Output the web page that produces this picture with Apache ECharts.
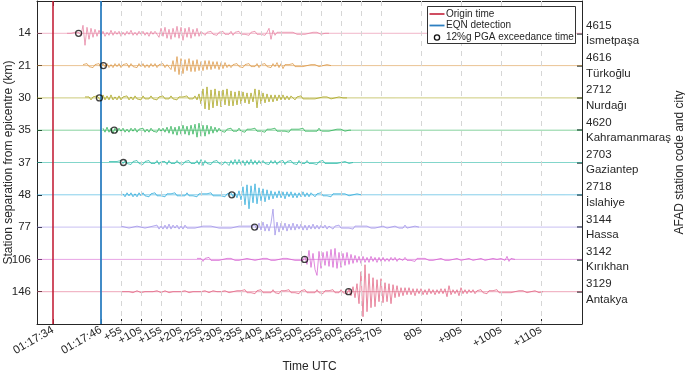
<!DOCTYPE html>
<html><head><meta charset="utf-8">
<script src="https://cdn.jsdelivr.net/npm/echarts@6/dist/echarts.min.js"></script>
<style>html,body{margin:0;padding:0;background:#fff}#c{width:685px;height:374px}</style>
</head><body><div id="c"></div>
<script>
// ---------- data ----------
const distances = [14, 21, 30, 35, 37, 48, 77, 106, 146];
const stationCodes = ['4615', '4616', '2712', '4620', '2703', '2718', '3144', '3142', '3129'];
const stationCities = ['İsmetpaşa', 'Türkoğlu', 'Nurdağı', 'Kahramanmaraş', 'Gaziantep', 'İslahiye', 'Hassa', 'Kırıkhan', 'Antakya'];
const traceColors = ['#e57a9c', '#d9913a', '#a39e0c', '#22ad4c', '#1db5a0', '#22a6d8', '#998be6', '#d45acf', '#e05d7e'];

// seconds after origin time (01:17:34)
const tickTimes = [0, 12, 17, 22, 27, 32, 37, 42, 47, 52, 57, 62, 67, 72, 77, 82, 92, 102, 112, 122];
const tickLabels = ['01:17:34', '01:17:46', '+5s', '+10s', '+15s', '+20s', '+25s', '+30s', '+35s', '+40s', '+45s', '+50s', '+55s', '+60s', '+65s', '+70s', '80s', '+90s', '+100s', '+110s'];
const originTime = 0;
const eqnDetectionTime = 12;
const timeMin = -4, timeMax = 132.25;

// 12%g PGA exceedance times (s after origin)
const pgaTimes = [6.4, 12.6, 11.6, 15.3, 17.6, 44.7, 50.4, 62.9, 73.9];

// trace start times and sample interval (s)
const traceStart = [3.5, 7.5, 8, 12.5, 14, 17.5, 17, 36, 17];
const sampleStep = 0.5;
// amplitude normalisation (trace amplitude units per station spacing)
const ampPerSpacing = 32.3;

const legendNames = ['Origin time', 'EQN detection', '12%g PGA exceedance time'];

const trace14 = [0,1,0,-1,1,-1,1,-2,8,-12,6,-6,5,-4,4,-3,3,-2,
 2,-3,1,-2,3,-2,2,-1,2,-3,1,-2,2,-1,3,-2,1,-2,2,-1,2,-2,1,-3,2,-1,2,
 3,-4,5,-3,6,-5,4,-6,5,-4,7,-5,6,-7,5,-4,6,-5,4,-3,5,-3,2,
 1,-2,1,-1,2,-1,1,-2,1,-1,2,-1,1,-1,2,-2,1,-1,2,-1,1,-1,1,-2,1,-1,2,-1,1,-1,1,-2,1,
 5,-6,3,-2,
 1,-1,1,-1,1,-1,1,-1,1,0,-1,1,-1,1,-1,1,0,-1,1,-1,1,0,-1,1,0,-1,0];
const trace21 = [1,-1,2,-1,1,-2,1,-1,2,
 -2,2,-1,2,-2,1,-2,2,-1,2,-2,1,-1,2,-2,2,-1,1,-2,2,-1,2,-2,1,-2,2,-1,2,-2,1,-1,2,-2,1,
 3,-4,5,-6,9,-9,7,-8,6,-5,7,-6,5,-6,6,-5,4,-5,5,-4,5,-4,4,-3,4,-4,3,-3,3,-2,
 1,-2,1,-1,2,-1,1,-2,1,-1,2,-1,1,-1,2,-2,1,-1,2,-1,1,-2,2,-1,
 3,-2,2,-3,
 1,-1,1,-1,2,-1,1,-1,1,-1,1,0,-1,1,-1,1,0,-1,1,0,-1,1,0,0];
const trace30 = [1,-1,1,-2,1,-1,2,
 2,-3,3,-2,2,-2,3,-2,1,-2,2,-2,1,-1,2,-2,1,-2,2,-1,1,-2,2,-1,1,-1,2,-1,1,-2,1,-1,2,-1,1,-1,2,-1,1,-2,1,-1,1,-1,2,-1,1,-1,2,-2,
 4,-6,9,-11,11,-12,8,-10,9,-8,7,-9,8,-7,9,-8,7,-8,6,-7,7,-6,6,-5,5,-6,5,-4,9,-10,8,-6,5,-5,4,-4,3,-4,3,-3,3,-2,3,-2,2,-2,2,
 1,-2,1,-1,2,-1,1,-1,1,-1,1,-1,1,0,-1,1,-1,1,0,-1,1,0,-1,1,0,0,1,0];
const trace35 = [2,-2,3,-2,2,-3,2,-2,2,-1,2,-2,1,-2,2,-1,2,-2,1,-1,2,-2,1,-2,2,-1,1,-2,2,-1,2,-2,
 3,-3,4,-4,3,-5,4,-4,5,-4,4,-5,5,-4,6,-7,7,-6,5,-6,5,-4,4,-3,3,-2,
 2,-1,1,-2,1,-1,2,-1,1,-1,2,-1,1,-2,1,-1,1,-1,2,-1,1,-1,1,-2,1,-1,1,-1,2,-1,1,-1,1,-1,1,-2,1,-1,1,-1,1,-1,2,-1,1,-1,1,-1,1,-1,2,-1,1,-1,1,-1,1,0,-1,1,-1,1,0,-1,1,0,0];
const trace37 = [1,-1,1,-1,1,-1,2,-1,
 2,-1,1,-2,1,-1,2,-1,1,-2,1,-1,2,-1,1,-1,2,-2,1,-1,1,-2,2,-1,1,-1,2,-1,1,-2,1,-1,2,-1,1,-1,2,-2,
 3,-3,2,-1,
 1,-2,1,-1,2,-1,1,-2,1,
 2,-3,2,-2,3,-2,3,-2,2,-3,2,-2,3,-2,2,-2,2,-1,
 2,-1,1,-2,2,-1,2,-2,1,-1,2,-2,1,-1,2,-1,1,-2,2,-1,1,-1,2,-1,1,-1,1,-2,1,-1,2,-1,1,-1,1,-1,1,-1,1,0,-1,1,0,-1,1,0];
const trace48 = [1,-2,2,-1,2,-2,1,-2,2,-1,2,-1,1,-2,1,-1,2,-1,1,-1,1,-2,1,-1,1,-1,2,-1,1,-1,1,-1,2,-1,1,-1,1,-2,1,-1,1,-1,1,-1,2,-1,1,-1,1,-1,1,-2,1,-1,
 2,-2,2,-3,
 4,-5,8,-10,10,-14,9,-8,11,-9,7,-6,6,-7,5,-5,4,-4,
 3,-3,4,-3,3,-4,3,-2,3,-3,2,-3,2,-2,3,-2,2,-2,2,
 1,-2,1,-1,2,-1,1,-1,1,-2,1,-1,1,-1,1,-1,1,0,-1,1,0,-1,1,0,0];
const trace77 = [1,-1,0,1,-1,1,0,-1,1,-1,0,1,-1,1,0,-1,1,-1,
 2,-2,1,-2,2,-2,3,-2,2,-1,2,-2,1,-2,2,-1,
 1,-1,1,-1,1,0,-1,1,-1,1,-1,1,-1,0,1,-1,1,-1,1,-1,1,-1,1,0,-1,1,-1,1,-1,1,-1,1,-1,
 2,-3,4,-3,5,-4,3,-4,
 4,18,-8,5,
 -5,4,-3,4,-4,3,-3,4,-3,3,-2,3,-3,2,-3,2,-2,3,-2,2,-2,2,-1,2,-2,1,
 1,-2,1,-1,2,-1,1,-1,1,-1,1,-2,1,-1,1,-1,1,-1,1,0,-1,1,-1,1,0,-1,1,0,-1,1,0,-1,1,0,-1,1,-1,2,-1,1,0,-1,1,0,0];
const trace106 = [1,-1,1,-2,1,-1,2,-1,1,-1,1,-1,1,0,-1,1,-1,1,0,-1,1,-1,1,0,-1,1,-1,0,1,-1,1,0,-1,1,-1,1,0,-1,1,-1,1,0,-1,1,-1,1,-1,0,1,-1,1,-1,1,-1,
 3,-5,9,-8,6,-10,-16,8,-9,7,-6,8,-7,10,-8,11,-9,7,-8,6,-6,7,-5,5,-4,4,
 -3,3,-4,3,-3,2,-3,3,-2,2,-3,2,-2,2,-2,1,-2,2,-1,2,-2,1,
 1,-1,2,-1,1,-1,1,-2,1,-1,1,-1,1,0,-1,1,-1,1,0,-1,1,0,-1,1,-1,1,0,-1,1,0,-1,1,0,-1,1,0,-1,1,0,-1,1,0,-1,1,0,-1,1,0,0,-1,1,0,-1,3,-2,1,0,0];
const trace146 = [0,1,0,-1,0,1,-1,0,1,0,-1,1,0,-1,0,1,0,-1,1,0,-1,0,1,0,-1,1,0,-1,0,1,0,-1,1,0,-1,1,0,-1,0,1,0,-1,1,0,-1,0,1,-1,0,1,0,-1,1,0,-1,1,0,-1,1,0,
 1,-1,2,-1,1,-1,1,-2,1,-1,2,-1,1,-1,1,-1,2,-1,1,-2,1,-1,1,-1,2,-1,1,-1,1,-2,1,-1,2,-1,1,-1,1,-1,2,-1,1,-2,1,-1,1,-1,2,-1,1,-1,2,-1,1,
 -2,3,-4,5,-6,8,
 -12,20,-25,27,-20,18,
 -16,14,-15,12,-10,13,-11,9,
 -10,8,-12,7,-6,6,-5,4,
 -4,4,-3,4,-3,3,-4,3,-2,3,-3,2,-3,3,-2,2,-3,2,-2,3,
 -2,3,-5,6,-3,2,
 -2,2,-4,4,-2,2,
 -2,2,-1,2,-2,1,-1,2,-1,1,-2,1,-1,1,-1,2,-1,1,-1,1,-1,1,-1,1,0,-1,1,-1,1,0,-1,1,0,-1,1,0,-1,0,0];
const traces = [trace14, trace21, trace30, trace35, trace37, trace48, trace77, trace106, trace146];

// ---------- chart ----------
const FONT = "'Liberation Sans', Arial, Helvetica, sans-serif";
const TXT = '#262626';
const RED = '#c4223a', BLUE = '#2d7fc1';
const stationIdx = distances.map((d, i) => i + 1);

const series = [];
series.push({
  type: 'line', name: 'grid', data: [], silent: true, z: 1,
  markLine: { silent: true, symbol: 'none', label: { show: false }, animation: false,
    lineStyle: { color: '#d6d6d6', type: [5, 5], width: 1 },
    data: tickTimes.filter(t => t > eqnDetectionTime).map(t => ({ xAxis: t })) }
});
traces.forEach((tr, i) => {
  const row = stationIdx[i];
  series.push({
    type: 'line', name: 'base' + distances[i], symbol: 'none', silent: true, z: 2,
    data: [[timeMin, row], [timeMax, row]],
    lineStyle: { color: traceColors[i], width: 1, opacity: 0.55 }, animation: false
  });
  series.push({
    type: 'line', name: 'trace' + distances[i], symbol: 'none', silent: true, z: 3,
    data: tr.map((a, k) => [traceStart[i] + k * sampleStep, row - a / ampPerSpacing]),
    lineStyle: { color: traceColors[i], width: 0.8, opacity: 0.9 }, animation: false
  });
});
series.push({
  type: 'line', name: legendNames[0], data: [], symbol: 'none', z: 5,
  markLine: { silent: true, symbol: 'none', label: { show: false }, animation: false,
    lineStyle: { color: RED, type: 'solid', width: 1.6 }, data: [{ xAxis: originTime }] }
});
series.push({
  type: 'line', name: legendNames[1], data: [], symbol: 'none', z: 5,
  markLine: { silent: true, symbol: 'none', label: { show: false }, animation: false,
    lineStyle: { color: BLUE, type: 'solid', width: 1.8 }, data: [{ xAxis: eqnDetectionTime }] }
});
series.push({
  type: 'scatter', name: legendNames[2], z: 6, symbol: 'circle', symbolSize: 6,
  data: pgaTimes.map((t, i) => [t, stationIdx[i]]),
  itemStyle: { color: 'rgba(255,255,255,0)', borderColor: '#111', borderWidth: 1.3 }, animation: false
});

// legend drawn as a small boxed key
const lg = { x: 427.5, y: 6.5, w: 148, h: 37, row: [14, 25.5, 37.5], iconX: 429.5, iconW: 15, textX: 446 };
const legendGraphic = [
  { type: 'rect', z: 100, shape: { x: lg.x, y: lg.y, width: lg.w, height: lg.h },
    style: { fill: '#fff', stroke: '#333', lineWidth: 1 } },
  { type: 'line', z: 101, shape: { x1: lg.iconX, y1: lg.row[0], x2: lg.iconX + lg.iconW, y2: lg.row[0] }, style: { stroke: RED, lineWidth: 1.6 } },
  { type: 'line', z: 101, shape: { x1: lg.iconX, y1: lg.row[1], x2: lg.iconX + lg.iconW, y2: lg.row[1] }, style: { stroke: BLUE, lineWidth: 1.8 } },
  { type: 'circle', z: 101, shape: { cx: lg.iconX + lg.iconW / 2, cy: lg.row[2], r: 2.6 }, style: { fill: 'none', stroke: '#111', lineWidth: 1.3 } }
].concat(legendNames.map((n, j) => ({
  type: 'text', z: 101, x: lg.textX, y: lg.row[j],
  style: { text: n, fill: TXT, font: '10px ' + FONT, verticalAlign: 'middle' }
})));

const option = {
  animation: false,
  textStyle: { fontFamily: FONT },
  grid: { left: 37, right: 103, top: 1, bottom: 50, containLabel: false, outerBoundsMode: 'none' },
  graphic: legendGraphic,
  xAxis: [{
    type: 'value', min: timeMin, max: timeMax, position: 'bottom',
    name: 'Time UTC', nameLocation: 'middle', nameGap: 37, nameMoveOverlap: false,
    nameTextStyle: { fontFamily: FONT, fontSize: 12, color: TXT },
    axisLine: { show: true, onZero: false, lineStyle: { color: '#262626', width: 1 } },
    axisTick: { show: true, inside: true, length: 5, customValues: tickTimes, lineStyle: { color: '#262626' } },
    axisLabel: { customValues: tickTimes, rotate: 30, margin: 5, fontSize: 11.5, color: TXT, fontFamily: FONT,
      formatter: v => { const j = tickTimes.indexOf(v); return j >= 0 ? tickLabels[j] : ''; } },
    splitLine: { show: false }
  }, {
    type: 'value', min: timeMin, max: timeMax, position: 'top',
    axisLine: { show: true, onZero: false, lineStyle: { color: '#262626', width: 1 } },
    axisTick: { show: true, inside: true, length: 5, customValues: tickTimes, lineStyle: { color: '#262626' } },
    axisLabel: { show: false }, splitLine: { show: false }
  }],
  yAxis: [{
    type: 'value', min: 0, max: 10, inverse: true, position: 'left',
    name: 'Station separation from epicentre (km)', nameLocation: 'middle', nameGap: 22, nameMoveOverlap: false,
    nameTextStyle: { fontFamily: FONT, fontSize: 12, color: TXT },
    axisLine: { show: true, onZero: false, lineStyle: { color: '#262626', width: 1 } },
    axisTick: { show: true, inside: true, length: 5, customValues: stationIdx, lineStyle: { color: '#262626' } },
    axisLabel: { customValues: stationIdx, margin: 6, fontSize: 11.5, color: TXT, fontFamily: FONT,
      formatter: v => { const j = stationIdx.indexOf(v); return j >= 0 ? String(distances[j]) : ''; } },
    splitLine: { show: false }
  }, {
    type: 'value', min: 0, max: 10, inverse: true, position: 'right',
    name: 'AFAD station code and city', nameLocation: 'middle', nameGap: 92, nameRotate: 90, nameMoveOverlap: false,
    nameTextStyle: { fontFamily: FONT, fontSize: 12, color: TXT },
    axisLine: { show: true, onZero: false, lineStyle: { color: '#262626', width: 1 } },
    axisTick: { show: true, inside: true, length: 5, customValues: stationIdx, lineStyle: { color: '#3a4a4a', width: 1.5 } },
    axisLabel: { customValues: stationIdx, margin: 4, fontSize: 11.5, lineHeight: 15.5, color: TXT, fontFamily: FONT, align: 'left',
      formatter: v => { const j = stationIdx.indexOf(v); return j >= 0 ? stationCodes[j] + '\n' + stationCities[j] : ''; } },
    splitLine: { show: false }
  }],
  series: series
};
const chart = echarts.init(document.getElementById('c'), null, { renderer: 'canvas' });
chart.setOption(option);
</script>
</body></html>
